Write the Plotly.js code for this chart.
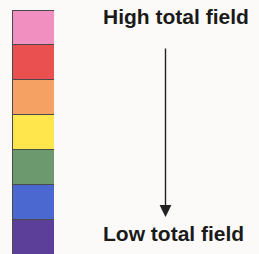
<!DOCTYPE html>
<html><head><meta charset="utf-8">
<script src="https://cdn.plot.ly/plotly-3.0.1.min.js"></script>
<style>html,body{margin:0;padding:0;background:#fcfaf8;}#c{width:259px;height:254px;}</style>
</head><body><div id="c"></div>
<script>
// Legend levels, bottom (low) to top (high)
const levels = ['Level 1','Level 2','Level 3','Level 4','Level 5','Level 6','Level 7'];
const colors = ['#5b3f98','#4a68cf','#6c9a6e','#ffe64c','#f5a164','#e9504f','#f08fc0'];
const values = [1,1,1,1,1,1,1];
const topLabel = 'High total field';
const bottomLabel = 'Low total field';

const W = 259, H = 254;
const traces = levels.map((name,i)=>({
  type:'bar', x:[0], y:[values[i]], name:name, width:1,
  marker:{color:colors[i], line:{color:'#4a4a4a', width:1}},
  hoverinfo:'skip', showlegend:false
}));
const px = v=>v/W, py = v=>1-v/H;
const layout = {
  width:W, height:H, margin:{l:0,r:0,t:0,b:0},
  paper_bgcolor:'#fcfaf8', plot_bgcolor:'#fcfaf8',
  barmode:'stack', bargap:0,
  xaxis:{domain:[px(12),px(54)], range:[-0.5,0.5], visible:false, fixedrange:true},
  yaxis:{domain:[0, 1-10/H], range:[0,7], visible:false, fixedrange:true},
  annotations:[
    {xref:'paper',yref:'paper',x:px(176),y:py(16.5),text:topLabel,showarrow:false,
     xanchor:'center',yanchor:'middle',font:{family:'Liberation Sans, Arial',size:21,color:'#1a1a1a',weight:'bold'}},
    {xref:'paper',yref:'paper',x:px(173),y:py(233),text:bottomLabel,showarrow:false,
     xanchor:'center',yanchor:'middle',font:{family:'Liberation Sans, Arial',size:21,color:'#1a1a1a',weight:'bold'}},
    {xref:'paper',yref:'paper',x:px(165.5),y:py(217),axref:'pixel',ayref:'pixel',ax:0,ay:-170,
     text:'',showarrow:true,arrowhead:2,arrowsize:1.7,arrowwidth:1.4,arrowcolor:'#222'}
  ]
};
Plotly.newPlot('c', traces, layout, {displayModeBar:false, staticPlot:true});
</script></body></html>
